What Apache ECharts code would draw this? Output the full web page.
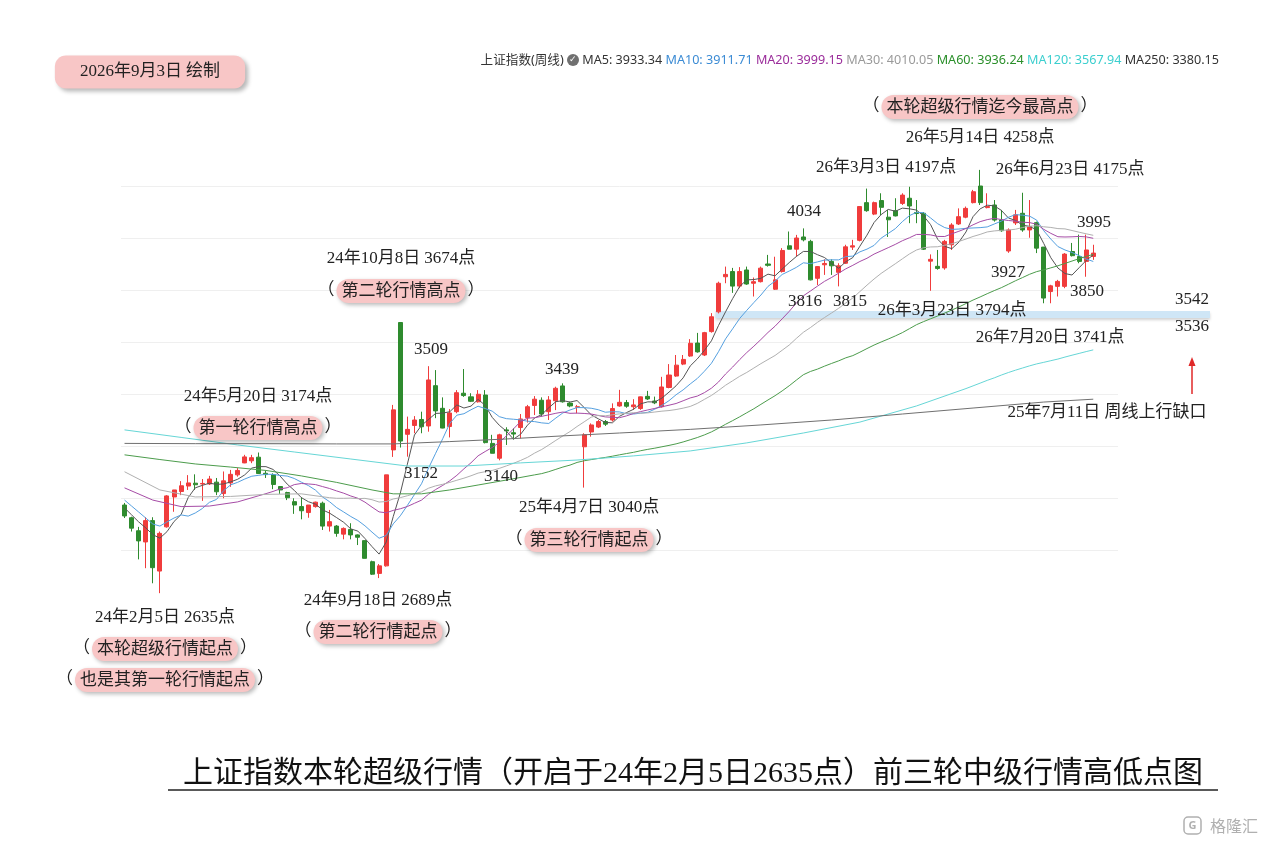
<!DOCTYPE html>
<html><head><meta charset="utf-8">
<script src="https://cdn.jsdelivr.net/npm/echarts@6/dist/echarts.min.js"></script>
<style>html,body{margin:0;padding:0;background:#fff}#c{width:1273px;height:844px}</style>
</head><body><div id="c"></div>
<script>
// weekly candles [open, close, low, high]
const candles = [
[2973,2931,2923,2981],[2924,2884,2871,2928],[2874,2835,2764,2889],[2831,2913,2730,2926],[2913,2732,2672,2926],
[2719,2864,2634,2871],[2889,3008,2886,3011],[3004,3031,2947,3031],[3025,3047,3011,3065],[3046,3058,3031,3088],
[3057,3051,3031,3091],[3054,3056,2989,3073],[3054,3073,3050,3085],[3061,3024,3011,3077],[3017,3066,2999,3102],
[3058,3091,3043,3108],[3089,3106,3082,3115],[3135,3158,3134,3166],[3143,3155,3134,3166],[3157,3094,3093,3175],
[3095,3090,3077,3105],[3089,3052,3034,3095],[3044,3031,3016,3046],[3021,3001,2992,3024],[2986,2973,2939,2999],
[2967,2951,2918,3003],[2944,2973,2924,2973],[2967,2984,2963,2986],[2980,2892,2877,2986],[2892,2909,2871,2954],
[2892,2864,2851,2896],[2861,2883,2841,2887],[2879,2858,2841,2903],[2858,2849,2819,2860],[2836,2768,2768,2836],
[2755,2707,2704,2759],[2710,2739,2692,2746],[2739,3089,2736,3089],[3185,3339,3158,3358],[3675,3219,3194,3676],
[3245,3264,3159,3313],[3279,3300,3249,3315],[3302,3274,3249,3332],[3277,3454,3255,3507],[3432,3335,3307,3492],
[3345,3269,3268,3387],[3275,3327,3233,3342],[3332,3405,3326,3415],[3403,3394,3389,3496],[3389,3372,3369,3403],
[3370,3399,3367,3415],[3396,3213,3210,3415],[3210,3172,3172,3243],[3153,3243,3145,3247],[3262,3258,3204,3272],
[3251,3246,3225,3268],[3271,3304,3229,3323],[3309,3351,3290,3358],[3356,3380,3319,3392],[3376,3323,3313,3387],
[3332,3377,3300,3392],[3374,3422,3338,3428],[3431,3370,3367,3441],[3365,3354,3349,3370],[3349,3351,3326,3358],
[3197,3243,3040,3249],[3254,3281,3236,3287],[3273,3294,3269,3300],[3294,3284,3277,3300],[3300,3344,3294,3364],
[3354,3368,3351,3416],[3367,3353,3347,3377],[3351,3358,3339,3380],[3344,3389,3339,3390],[3391,3381,3377,3412],
[3373,3366,3361,3390],[3351,3427,3348,3466],[3425,3473,3422,3515],[3469,3511,3466,3550],[3515,3533,3511,3550],
[3546,3595,3543,3611],[3596,3562,3559,3635],[3550,3636,3546,3639],[3640,3697,3636,3711],[3716,3826,3710,3832],
[3851,3860,3826,3890],[3871,3815,3789,3885],[3815,3871,3807,3888],[3877,3823,3820,3890],[3826,3832,3775,3848],
[3832,3884,3829,3890],[3900,3895,3890,3935],[3803,3839,3800,3928],[3871,3952,3867,3961],[3970,3957,3956,4025],
[3957,4000,3929,4012],[4004,3993,3987,4037],[3987,3839,3837,3993],[3845,3890,3819,3892],[3897,3902,3858,3918],
[3910,3893,3858,3918],[3868,3893,3814,3903],[3903,3966,3900,3974],[3965,3970,3954,3993],[3991,4121,3987,4121],
[4136,4105,4101,4190],[4092,4136,4088,4140],[4144,4118,4088,4172],[4080,4070,4004,4108],[4105,4085,4083,4153],
[4133,4165,4127,4172],[4153,4123,4057,4197],[4098,4094,4057,4146],[4095,3957,3954,4100],[3911,3918,3797,3937],
[3891,3883,3878,3954],[3885,3987,3878,3993],[3974,4050,3954,4057],[4054,4082,4050,4114],[4080,4114,4076,4121],
[4136,4178,4133,4185],[4200,4136,4127,4262],[4117,4121,4114,4172],[4127,4069,4063,4146],[4069,4028,4024,4108],
[3950,4031,3943,4037],[4058,4089,4050,4108],[4095,4031,4024,4174],[4031,4044,4001,4146],[4059,3961,3942,4063],
[3965,3769,3749,3965],[3794,3816,3749,3820],[3814,3833,3775,3839],[3814,3938,3807,3942],[3948,3932,3929,3981],
[3929,3910,3903,4013],[3910,3954,3851,4013],[3929,3942,3916,3974]
];
const ma5Head = [[0,2962],[1,2935],[2,2908],[3,2885]];
const ma10Head = [[0,2992],[1,2969],[2,2946],[3,2923],[4,2900],[5,2892],[6,2908],[7,2923],[8,2935]];
const ma20Head = [[0,3039],[4,2992],[8,2967],[12,2969],[16,2985]];
const ma30Head = [[0,3101],[5,3031],[10,3004],[15,3006],[20,3014],[25,3016]];
const ma60Head = [[0,3166],[5,3148],[10,3131],[15,3119],[20,3106],[25,3085],[30,3060],[35,3031],[38,3016],[42,3016],[46,3031],[50,3050],[54,3069],[58,3089]];
const ma120Head = [[0,3262],[8,3233],[16,3204],[24,3177],[32,3150],[40,3123],[48,3123],[56,3135],[64,3146],[72,3162],[80,3181],[88,3212],[96,3250],[104,3292],[112,3354]];
const ma250Points = [[0,3210],[10,3209],[20,3209],[30,3208],[38,3208],[46,3217],[54,3227],[62,3239],[70,3250],[80,3264],[90,3281],[100,3300],[110,3323],[120,3346],[130,3369],[137,3380]];

const maNames = ['MA5','MA10','MA20','MA30','MA60','MA120','MA250'];
const maLegendValues = ['3933.34','3911.71','3999.15','4010.05','3936.24','3567.94','3380.15'];
const maLegendColors = ['#333333','#3b8bd4','#9b2d9b','#9a9a9a','#2a8f2a','#3ccfcf','#333333'];
const maLineColors = ['#555555','#55a0e0','#a64ca6','#b0b0b0','#4c9c4c','#66d6d6','#707070'];

const yTicks = [2600, 4400, 200]; // min, max, interval
const bandValues = [3692, 3719];
const bandStartIndex = 84;

const categories = [];
(function(){
  const t0 = Date.UTC(2024,0,1);
  for (let i = 0; i < candles.length + 3; i++) {
    const d = new Date(t0 + i*7*86400000);
    categories.push(d.getUTCFullYear()+'-'+(d.getUTCMonth()+1)+'-'+d.getUTCDate());
  }
})();

function movingAvg(n, head) {
  const out = new Array(candles.length).fill('-');
  head.forEach(([i, v]) => { out[i] = v; });
  for (let i = n - 1; i < candles.length; i++) {
    let s = 0;
    for (let k = i - n + 1; k <= i; k++) s += candles[k][1];
    out[i] = +(s / n).toFixed(2);
  }
  return out;
}
function fromPoints(pts) {
  const out = new Array(candles.length).fill('-');
  pts.forEach(([i, v]) => { out[i] = v; });
  return out;
}
const maData = [
  movingAvg(5, ma5Head), movingAvg(10, ma10Head), movingAvg(20, ma20Head), movingAvg(30, ma30Head),
  movingAvg(60, ma60Head), movingAvg(120, ma120Head), fromPoints(ma250Points)
];

const SERIF = '"Liberation Serif","Noto Sans CJK SC",serif';
const SANS = '"Noto Sans","Noto Sans CJK SC",sans-serif';
const chart = echarts.init(document.getElementById('c'), null, {renderer:'canvas'});

const series = [{
  type: 'candlestick', data: candles, barWidth: '64%', silent: true,
  itemStyle: {color:'#f03c3c', color0:'#2e8b2e', borderColor:'#f03c3c', borderColor0:'#2e8b2e', borderWidth:1}
}];
maData.forEach((d, k) => series.push({
  type:'line', name: maNames[k], data: d, symbol:'none', showSymbol:false, connectNulls:true, silent:true,
  lineStyle:{width:1, color: maLineColors[k]}, z: 3
}));

chart.setOption({
  animation: false,
  backgroundColor: '#ffffff',
  grid: {left: 121, right: 155, top: 134, bottom: 242},
  xAxis: {type:'category', data: categories, boundaryGap: true, show: true,
    axisLine:{show:false}, axisTick:{show:false}, axisLabel:{show:false}, splitLine:{show:false}},
  yAxis: {type:'value', min: yTicks[0], max: yTicks[1], interval: yTicks[2], scale: false,
    axisLine:{show:false}, axisTick:{show:false}, axisLabel:{show:false},
    splitLine:{show:true, showMinLine:false, showMaxLine:false, lineStyle:{color:'#efefef', width:1}}},
  series: series
});

// annotations
const pill = {backgroundColor:'#f8c6c6', borderRadius:12, padding:[4,5,3,5],
  shadowColor:'rgba(0,0,0,0.28)', shadowBlur:4, shadowOffsetX:2, shadowOffsetY:2,
  fontSize:17, fontFamily:SERIF, fill:'#222'};
const paren = {fontSize:17, fontFamily:SERIF, fill:'#222', padding:[0,2,0,2]};
const notes = [
  [980,107,'本轮超级行情迄今最高点',true],
  [980,138,'26年5月14日 4258点'],
  [886,168,'26年3月3日 4197点'],
  [1070,170,'26年6月23日 4175点'],
  [804,212,'4034'],
  [1094,223,'3995'],
  [401,259,'24年10月8日 3674点'],
  [401,291,'第二轮行情高点',true],
  [1008,273,'3927'],
  [1087,292,'3850'],
  [805,302,'3816'],
  [850,302,'3815'],
  [952,311,'26年3月23日 3794点'],
  [1192,300,'3542'],
  [1192,327,'3536'],
  [1050,338,'26年7月20日 3741点'],
  [431,350,'3509'],
  [562,370,'3439'],
  [258,397,'24年5月20日 3174点'],
  [258,428,'第一轮行情高点',true],
  [1107,413,'25年7月11日 周线上行缺口'],
  [421,474,'3152'],
  [501,477,'3140'],
  [589,508,'25年4月7日 3040点'],
  [589,540,'第三轮行情起点',true],
  [378,601,'24年9月18日 2689点'],
  [378,632,'第二轮行情起点',true],
  [165,618,'24年2月5日 2635点'],
  [165,649,'本轮超级行情起点',true],
  [165,680,'也是其第一轮行情起点',true]
];
const graphics = [];
notes.forEach(n => {
  if (n[3]) {
    graphics.push({type:'text', x:n[0], y:n[1], z:10, style:{
      text:'{p|（}{b|'+n[2]+'}{p|）}', align:'center', verticalAlign:'middle',
      rich:{p:paren, b:pill}}});
  } else {
    graphics.push({type:'text', x:n[0], y:n[1], z:10, style:{
      text:n[2], align:'center', verticalAlign:'middle', font:'17px '+SERIF, fill:'#222'}});
  }
});

// band (gap) derived from values
const pA = chart.convertToPixel({gridIndex:0}, [bandStartIndex, bandValues[1]]);
const pB = chart.convertToPixel({gridIndex:0}, [bandStartIndex, bandValues[0]]);
graphics.push({type:'rect', z:1, shape:{x:pA[0]-3, y:pA[1], width:1210-(pA[0]-3), height:pB[1]-pA[1]},
  style:{fill:'#cfe6f6', shadowColor:'rgba(0,0,0,0.18)', shadowBlur:3, shadowOffsetY:2}});

// red arrow
graphics.push({type:'line', z:10, shape:{x1:1192, y1:394, x2:1192, y2:364}, style:{stroke:'#e02828', lineWidth:1.5}});
graphics.push({type:'polygon', z:10, shape:{points:[[1192,357],[1188.5,366],[1195.5,366]]}, style:{fill:'#e02828'}});

// date box
graphics.push({type:'text', x:150, y:72, z:10, style:{text:'2026年9月3日 绘制', align:'center', verticalAlign:'middle',
  font:'17px '+SERIF, fill:'#222', backgroundColor:'#f8c6c6', borderRadius:11, padding:[8,25,8,25],
  shadowColor:'rgba(0,0,0,0.28)', shadowBlur:4, shadowOffsetX:3, shadowOffsetY:3}});

// legend line
let lg = '{t|上证指数(周线)} {ic|✓} ';
const rich = {t:{fontSize:12.6, fontFamily:SANS, fill:'#333'},
  ic:{backgroundColor:'#707070', fill:'#fff', borderRadius:6, width:12, height:12, lineHeight:12, fontSize:9, align:'center'}};
maNames.forEach((nm,k) => {
  lg += '{m'+k+'|'+nm+': '+maLegendValues[k]+'}' + (k < maNames.length-1 ? ' ' : '');
  rich['m'+k] = {fontSize:12.6, fontFamily:SANS, fill:maLegendColors[k]};
});
graphics.push({type:'text', x:1219, y:60, z:10, style:{text:lg, rich:rich, align:'right', verticalAlign:'middle', font:'12.6px '+SANS}});

// title + underline
graphics.push({type:'text', x:693, y:774, z:10, style:{text:'上证指数本轮超级行情（开启于24年2月5日2635点）前三轮中级行情高低点图',
  align:'center', verticalAlign:'middle', font:'30px '+SERIF, fill:'#111'}});
graphics.push({type:'line', z:10, shape:{x1:168, y1:790, x2:1218, y2:790}, style:{stroke:'#222', lineWidth:1.5}});

// watermark
graphics.push({type:'rect', z:10, shape:{x:1184, y:817, width:17, height:17, r:4}, style:{fill:'none', stroke:'#b0b0b0', lineWidth:1.5}});
graphics.push({type:'text', x:1192.5, y:826, z:10, style:{text:'G', align:'center', verticalAlign:'middle', font:'bold 11px "Noto Sans"', fill:'#b0b0b0'}});
graphics.push({type:'text', x:1234, y:826, z:10, style:{text:'格隆汇', align:'center', verticalAlign:'middle', font:'16px "Noto Sans CJK SC"', fill:'#b0b0b0'}});

chart.setOption({graphic: graphics});
</script>
</body></html>
